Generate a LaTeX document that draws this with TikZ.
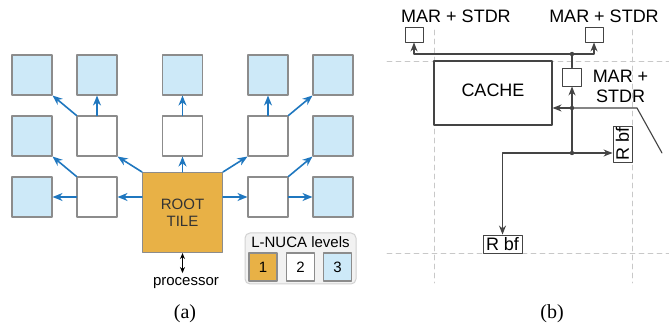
\documentclass[tikz,border=0pt]{standalone}
\usepackage{fontspec}
\usetikzlibrary{arrows.meta}
\setmainfont{Liberation Serif}
\setsansfont{Liberation Sans}
\definecolor{lvlone}{HTML}{E8B146}
\definecolor{lvlthree}{HTML}{CDE9F8}
\definecolor{tilegray}{HTML}{8C8C8C}
\definecolor{linkblue}{HTML}{1F77BF}
\definecolor{wire}{HTML}{444444}
\definecolor{gridgray}{HTML}{C8C8C8}
\tikzset{
	tile/.style={draw=tilegray, line width=1.1pt, minimum size=40pt, inner sep=0pt},
	lvlonetile/.style={tile, fill=lvlone, minimum size=80pt, align=center, text=black!80},
	lvltwotile/.style={tile, fill=white},
	lvlthreetile/.style={tile, fill=lvlthree},
	keytile/.style={tile, minimum size=28pt},
	link/.style={-{Stealth[length=10pt, width=8pt]}, draw=linkblue, line width=1.6pt},
	regbox/.style={draw=wire, line width=.9pt, fill=white, inner sep=1pt},
	wireline/.style={draw=wire, line width=1.1pt},
	gridline/.style={draw=gridgray, dashed, dash pattern=on 5pt off 4pt, line width=.7pt}
}
\begin{document}
\begin{tikzpicture}[x=1pt, y=-1pt, line join=round, line cap=round, >={Stealth[length=9pt, width=7pt]}, font=\sffamily]
	\useasboundingbox (0,0) rectangle (669,328);
	% (a) L-NUCA
	\begin{scope}[font=\sffamily\fontsize{15}{17}\selectfont]
	\node[lvlonetile] (root) at (182.5,212.5) {ROOT\\TILE};
	\foreach \ten/\x/\y in {w22/97/136, w23/182.5/136, w24/268/136, w32/97/197, w34/268/197}
		\node[lvltwotile] (\ten) at (\x,\y) {};
	\foreach \ten/\x/\y in {b11/32/75, b12/97/75, b13/182.5/75, b14/268/75, b15/333/75,
		b21/32/136, b25/333/136, b31/32/197, b35/333/197}
		\node[lvlthreetile] (\ten) at (\x,\y) {};
	\draw[link] (root.west |- w32) -- (w32.east);
	\draw[link] (w32.west) -- (b31.east);
	\draw[link] (w32.north west) -- (b21.south east);
	\draw[link] (root.north west) -- (w22.south east);
	\draw[link] (root.north) -- (w23.south);
	\draw[link] (root.north east) -- (w24.south west);
	\draw[link] (w22.north west) -- (b11.south east);
	\draw[link] (w22.north) -- (b12.south);
	\draw[link] (w23.north) -- (b13.south);
	\draw[link] (w24.north) -- (b14.south);
	\draw[link] (w24.north east) -- (b15.south west);
	\draw[link] (root.east |- w34) -- (w34.west);
	\draw[link] (w34.east) -- (b35.west);
	\draw[link] (w34.north east) -- (b25.south west);
	\node[inner sep=0pt] (proc) at (186,283) {processor};
	\draw[{Stealth[length=6pt, width=5pt]}-{Stealth[length=6pt, width=5pt]}, line width=1pt] (root.south) -- ++(0,20);
	% legend
	\node[draw=gray!35, fill=gray!10, rounded corners=5pt, line width=1pt,
		minimum width=111pt, minimum height=51pt] (legend) at (300.5,258.5) {};
	\node (keytitle) at (300.5,242) {L-NUCA levels};
	\node[keytile, fill=lvlone] (k1) at (263,267) {1};
	\node[keytile, fill=white] (k2) at (300.5,267) {2};
	\node[keytile, fill=lvlthree] (k3) at (337.5,267) {3};
	\end{scope}
	% (b) tile
	\begin{scope}[font=\sffamily\fontsize{18}{20}\selectfont]
	\draw[gridline] (387,61) -- (669,61);
	\draw[gridline] (387,253) -- (669,253);
	\draw[gridline] (434,30) -- (434,283);
	\draw[gridline] (632,30) -- (632,283);
	\node[regbox, minimum width=118pt, minimum height=64pt, line width=1.1pt] (cache) at (493,93) {};
	\node (cachetxt) at (493,90) {CACHE};
	\node[regbox, minimum width=18pt, minimum height=15pt] (mL) at (414,34.5) {};
	\node[regbox, minimum width=18pt, minimum height=15pt] (mR) at (594,34.5) {};
	\node[regbox, minimum width=19pt, minimum height=18pt] (mM) at (572,77) {};
	\node[inner sep=0pt] (mLtxt) at (456,16) {MAR + STDR};
	\node[inner sep=0pt] (mRtxt) at (604,16) {MAR + STDR};
	\node[inner sep=0pt, align=center] (mMtxt) at (620.5,86) {MAR +\\STDR};
	\node[regbox, rotate=90, minimum width=36pt, minimum height=19pt] (rR) at (622.5,144) {R bf};
	\node[regbox, minimum width=39pt, minimum height=18pt] (rB) at (502.5,244) {R bf};
	\coordinate (d1) at (572,54);
	\coordinate (d2) at (572,108);
	\coordinate (d3) at (572,153);
	\coordinate (knee) at (637,108);
	\coordinate (tail) at (662,153);
	\draw[wireline, ->] (d1) -| (mL.south);
	\draw[wireline, ->] (d1) -| (mR.south);
	\draw[wireline] (d1) -- (mM.north);
	\draw[wireline, ->] (d3) -- (mM.south);
	\draw[wireline] (tail) -- (knee) -- (d2);
	\draw[wireline, ->] (d2) -- (cache.east |- d2);
	\draw[wireline, ->] (d3) -- (d3 -| rR.north);
	\draw[wireline, ->] (d3) -| (rB.north);
	\foreach \diem in {d1,d2,d3} \fill[wire] (\diem) circle (2.2pt);
	\end{scope}
	% captions
	\node[font=\rmfamily\fontsize{20}{22}\selectfont] (capa) at (185,314) {(a)};
	\node[font=\rmfamily\fontsize{20}{22}\selectfont] (capb) at (552,314) {(b)};
\end{tikzpicture}
\end{document}
